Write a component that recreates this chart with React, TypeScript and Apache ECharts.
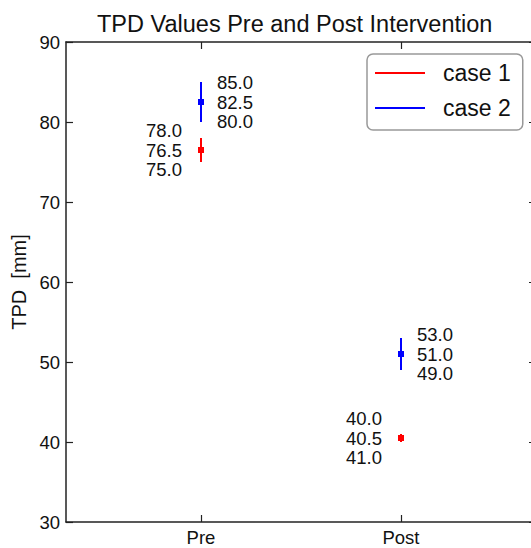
import React, { useEffect, useRef } from "react";
import * as echarts from "echarts";

const categories = ["Pre", "Post"];
const xPositions = [0, 1];

const case1Mean = [76.5, 40.5];
const case1Low = [75.0, 40.0];
const case1High = [78.0, 41.0];
const case1Notes = [
  [78.0, 76.5, 75.0],
  [40.0, 40.5, 41.0],
];

const case2Mean = [82.5, 51.0];
const case2Low = [80.0, 49.0];
const case2High = [85.0, 53.0];
const case2Notes = [
  [85.0, 82.5, 80.0],
  [53.0, 51.0, 49.0],
];

const FONT = "'Liberation Sans', Arial, Helvetica, sans-serif";
const TEXT = "#111";
const AXIS = "#222";

function makeSeries(
  name: string,
  color: string,
  mean: number[],
  low: number[],
  high: number[],
  notes: number[][],
  side: "left" | "right"
) {
  const data = xPositions.map((x, i) => [x, mean[i], low[i], high[i]]);
  return {
    type: "custom",
    name,
    itemStyle: { color },
    data,
    clip: false,
    encode: { x: 0, y: 1 },
    renderItem: (params: any, api: any) => {
      const x = api.value(0);
      const m = api.value(1);
      const lo = api.value(2);
      const hi = api.value(3);
      const pLo = api.coord([x, lo]);
      const pHi = api.coord([x, hi]);
      const pM = api.coord([x, m]);
      const txt = notes[params.dataIndex].map((v) => v.toFixed(1)).join("\n");
      return {
        type: "group",
        children: [
          {
            type: "line",
            shape: { x1: pLo[0], y1: pLo[1], x2: pHi[0], y2: pHi[1] },
            style: { stroke: color, lineWidth: 2 },
          },
          {
            type: "rect",
            shape: { x: pM[0] - 3, y: pM[1] - 3, width: 6, height: 6 },
            style: { fill: color },
          },
          {
            type: "text",
            x: side === "left" ? pM[0] - 19 : pM[0] + 16,
            y: pM[1],
            style: {
              text: txt,
              align: side === "left" ? "right" : "left",
              verticalAlign: "middle",
              fontSize: 18.5,
              lineHeight: 19.5,
              fontFamily: FONT,
              fill: TEXT,
            },
          },
        ],
      };
    },
  };
}

export default function App() {
  const ref = useRef<HTMLDivElement>(null);

  useEffect(() => {
    document.body.style.margin = "0";
    if (!ref.current) return;
    const chart = echarts.init(ref.current, undefined, { renderer: "svg" });
    const baseAxisLine = { show: true, onZero: false, lineStyle: { color: AXIS, width: 1.5 } };
    const option: any = {
      animation: false,
      backgroundColor: "#fff",
      title: {
        text: "TPD Values Pre and Post Intervention",
        left: 97,
        top: 12,
        padding: 0,
        textStyle: {
          fontSize: 23.5,
          fontWeight: "normal",
          color: TEXT,
          fontFamily: FONT,
        },
      },
      legend: {
        orient: "vertical",
        left: 367,
        top: 54,
        padding: [6, 12, 9, 8],
        itemWidth: 50,
        itemHeight: 2,
        itemGap: 9,
        icon: "rect",
        borderColor: "#999",
        borderWidth: 1.5,
        borderRadius: 6,
        textStyle: {
          fontSize: 23,
          lineHeight: 26,
          color: TEXT,
          fontFamily: FONT,
          padding: [0, 0, 0, 13],
        },
        data: ["case 1", "case 2"],
      },
      grid: {
        left: 66,
        top: 42,
        width: 470,
        height: 480,
        containLabel: false,
        outerBoundsMode: "none",
      },
      xAxis: [
        {
          type: "value",
          min: -0.675,
          max: 1.675,
          position: "bottom",
          axisLine: baseAxisLine,
          splitLine: { show: false },
          axisTick: {
            show: true,
            inside: true,
            length: 7,
            customValues: xPositions,
            lineStyle: { color: AXIS, width: 1.2 },
          },
          axisLabel: {
            show: true,
            customValues: xPositions,
            formatter: (v: number) => categories[Math.round(v)] ?? "",
            fontSize: 18.5,
            color: TEXT,
            fontFamily: FONT,
            margin: 6,
          },
        },
        {
          type: "value",
          min: -0.675,
          max: 1.675,
          position: "top",
          axisLine: baseAxisLine,
          splitLine: { show: false },
          axisTick: {
            show: true,
            inside: true,
            length: 7,
            customValues: xPositions,
            lineStyle: { color: AXIS, width: 1.2 },
          },
          axisLabel: { show: false },
        },
      ],
      yAxis: [
        {
          type: "value",
          min: 30,
          max: 90,
          interval: 10,
          position: "left",
          name: "TPD  [mm]",
          nameLocation: "middle",
          nameGap: 37,
          nameTextStyle: { fontSize: 20, color: TEXT, fontFamily: FONT },
          axisLine: baseAxisLine,
          splitLine: { show: false },
          axisTick: {
            show: true,
            inside: true,
            length: 7,
            lineStyle: { color: AXIS, width: 1.2 },
          },
          axisLabel: {
            fontSize: 18.5,
            color: TEXT,
            fontFamily: FONT,
            margin: 6,
          },
        },
        {
          type: "value",
          min: 30,
          max: 90,
          interval: 10,
          position: "right",
          axisLine: baseAxisLine,
          splitLine: { show: false },
          axisTick: {
            show: true,
            inside: true,
            length: 7,
            lineStyle: { color: AXIS, width: 1.2 },
          },
          axisLabel: { show: false },
        },
      ],
      series: [
        makeSeries("case 1", "#ff0000", case1Mean, case1Low, case1High, case1Notes, "left"),
        makeSeries("case 2", "#0000ff", case2Mean, case2Low, case2High, case2Notes, "right"),
      ],
    };
    chart.setOption(option);
    return () => {
      chart.dispose();
    };
  }, []);

  return <div ref={ref} style={{ width: 531, height: 548 }} />;
}
